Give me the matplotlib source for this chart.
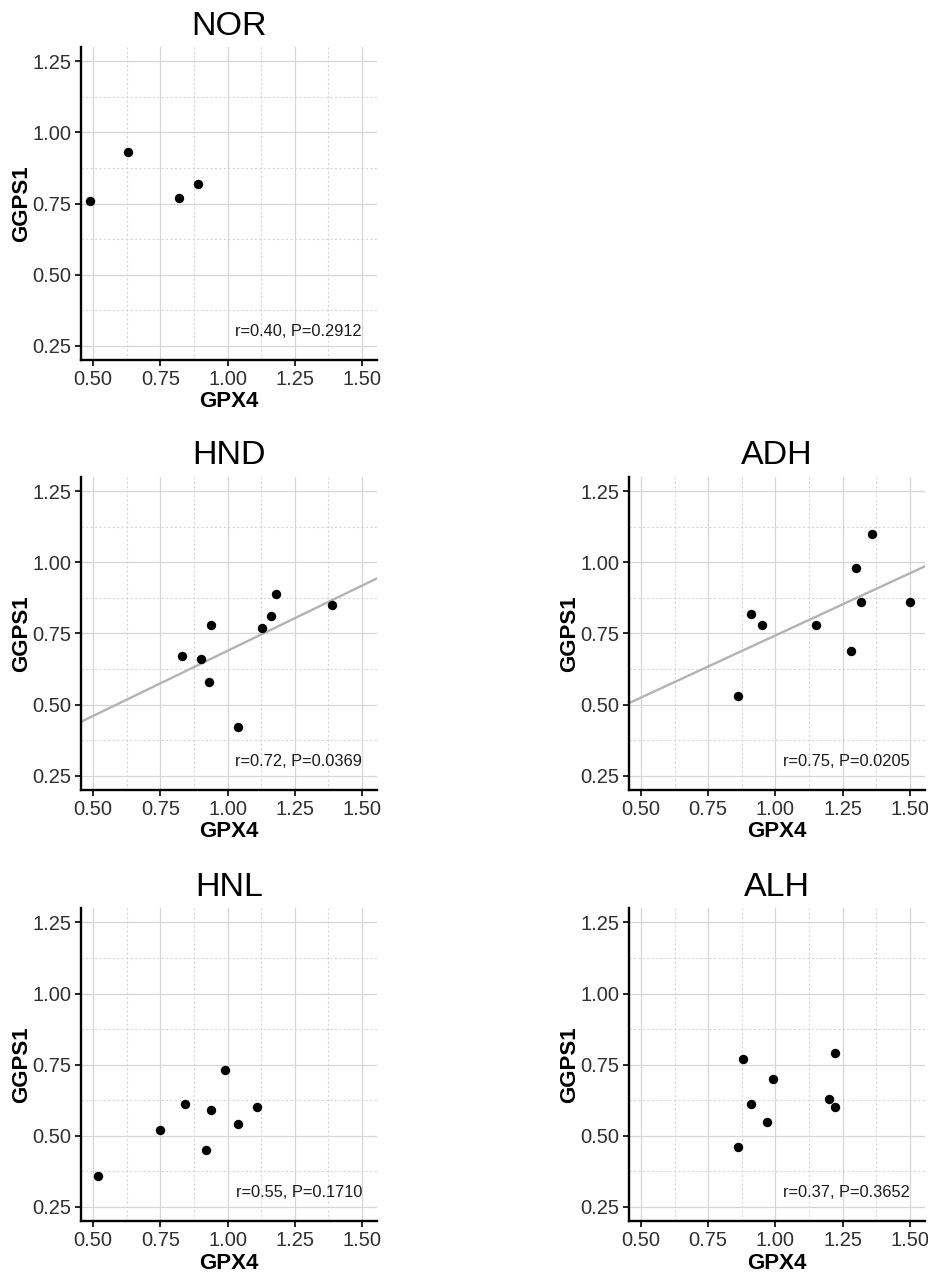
import numpy as np
import matplotlib
matplotlib.use("Agg")
import matplotlib.pyplot as plt
from matplotlib.ticker import MultipleLocator

plt.rcParams['font.family'] = ['Liberation Sans', 'DejaVu Sans']

# data
nor_x = [0.49, 0.63, 0.82, 0.89]
nor_y = [0.76, 0.93, 0.77, 0.82]

hnd_x = [0.83, 0.90, 0.93, 0.94, 1.04, 1.13, 1.16, 1.18, 1.39]
hnd_y = [0.67, 0.66, 0.58, 0.78, 0.42, 0.77, 0.81, 0.89, 0.85]

adh_x = [0.86, 0.91, 0.95, 1.15, 1.28, 1.30, 1.32, 1.36, 1.50]
adh_y = [0.53, 0.82, 0.78, 0.78, 0.69, 0.98, 0.86, 1.10, 0.86]

hnl_x = [0.52, 0.75, 0.84, 0.92, 0.94, 0.99, 1.04, 1.11]
hnl_y = [0.36, 0.52, 0.61, 0.45, 0.59, 0.73, 0.54, 0.60]

alh_x = [0.86, 0.88, 0.91, 0.97, 0.99, 1.20, 1.22, 1.22]
alh_y = [0.46, 0.77, 0.61, 0.55, 0.70, 0.63, 0.79, 0.60]

panels = [
    # name, x, y, stats text, show fit line, axes rect
    ("NOR", nor_x, nor_y, "r=0.40, P=0.2912", False, [0.0872, 0.717, 0.3186, 0.246]),
    ("HND", hnd_x, hnd_y, "r=0.72, P=0.0369", True, [0.0872, 0.379, 0.3186, 0.246]),
    ("ADH", adh_x, adh_y, "r=0.75, P=0.0205", True, [0.677, 0.379, 0.3186, 0.246]),
    ("HNL", hnl_x, hnl_y, "r=0.55, P=0.1710", False, [0.0872, 0.040, 0.3186, 0.246]),
    ("ALH", alh_x, alh_y, "r=0.37, P=0.3652", False, [0.677, 0.040, 0.3186, 0.246]),
]

fig = plt.figure(figsize=(9.29, 12.72), dpi=100)

for name, xs, ys, stat, fit, rect in panels:
    ax = fig.add_axes(rect)
    xlim = (0.455, 1.556)
    ax.set_xlim(*xlim)
    ax.set_ylim(0.20, 1.30)

    ax.xaxis.set_major_locator(MultipleLocator(0.25))
    ax.yaxis.set_major_locator(MultipleLocator(0.25))
    ax.xaxis.set_minor_locator(MultipleLocator(0.125))
    ax.yaxis.set_minor_locator(MultipleLocator(0.125))
    ax.xaxis.set_major_formatter(lambda v, p: f"{v:.2f}")
    ax.yaxis.set_major_formatter(lambda v, p: f"{v:.2f}")

    ax.grid(True, which='major', color='#d6d6d6', linewidth=0.9)
    ax.grid(True, which='minor', color='#d6d6d6', linewidth=0.8, linestyle=(0, (2, 2)))
    ax.set_axisbelow(True)

    for s in ['top', 'right']:
        ax.spines[s].set_visible(False)
    for s in ['left', 'bottom']:
        ax.spines[s].set_linewidth(1.7)
        ax.spines[s].set_color('black')
    ax.tick_params(which='major', length=4, width=1.2, color='black',
                   labelsize=14.5, labelcolor='#303030', pad=3)
    ax.tick_params(which='minor', length=0)

    if fit:
        k, b = np.polyfit(xs, ys, 1)
        lx = np.array(xlim)
        ax.plot(lx, k * lx + b, color='#b3b3b3', linewidth=1.7, zorder=2)

    ax.scatter(xs, ys, s=46, color='black', zorder=3, linewidths=0)

    ax.text(1.50, 0.30, stat, ha='right', va='center', fontsize=11.8, color='#1a1a1a')

    ax.set_title(name, fontsize=24.5, pad=9)
    ax.set_xlabel("GPX4", fontsize=16, fontweight='bold', labelpad=2)
    ax.set_ylabel("GGPS1", fontsize=16, fontweight='bold', labelpad=0)

fig.savefig("out.png", dpi=100)
